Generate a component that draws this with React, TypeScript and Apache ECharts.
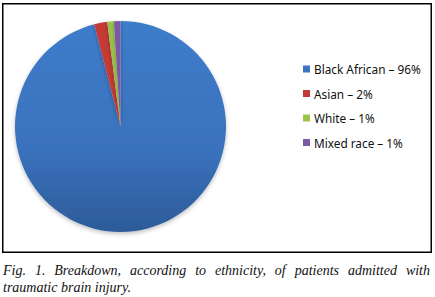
import React, { useEffect, useRef } from "react";
import * as echarts from "echarts";

const categories = ["Black African", "Asian", "White", "Mixed race"];
const values = [96, 2, 1, 1];
const sliceColors = ["#3B76C2", "#C43A35", "#9BC34B", "#7A5AA6"];
const captionLine1 = "Fig. 1. Breakdown, according to ethnicity, of patients admitted with";
const captionLine2 = "traumatic brain injury.";

const W = 435;
const H = 297;
const CAPTION_FONT = "italic 14px 'Liberation Serif'";

function measure(text: string): number {
  const c = document.createElement("canvas");
  const ctx = c.getContext("2d")!;
  ctx.font = CAPTION_FONT;
  return ctx.measureText(text).width;
}

export default function App() {
  const ref = useRef<HTMLDivElement>(null);
  useEffect(() => {
    if (!ref.current) return;
    const chart = echarts.init(ref.current, null, { renderer: "svg", width: W, height: H });

    const words = captionLine1.split(" ");
    const widths = words.map(measure);
    const left = 3;
    const right = 430;
    const total = widths.reduce((a, b) => a + b, 0);
    const gap = (right - left - total) / (words.length - 1);
    let cx = left;
    const wordEls: any[] = words.map((w, i) => {
      const el = {
        type: "text",
        x: cx,
        y: 270.5,
        style: {
          text: w,
          font: CAPTION_FONT,
          fill: "#111",
          align: "left",
          verticalAlign: "middle",
        },
      };
      cx += widths[i] + gap;
      return el;
    });

    const data = categories.map((name, i) => ({
      name,
      value: values[i],
      itemStyle:
        i === 0
          ? {
              color: {
                type: "linear",
                x: 0,
                y: 0,
                x2: 0,
                y2: 1,
                colorStops: [
                  { offset: 0, color: "#3E7CCA" },
                  { offset: 0.6, color: "#3A72BD" },
                  { offset: 1, color: "#2D5B99" },
                ],
              },
            }
          : { color: sliceColors[i] },
    }));

    chart.setOption({
      animation: false,
      backgroundColor: "#ffffff",
      color: sliceColors,
      legend: {
        orient: "vertical",
        left: 303,
        top: 62,
        padding: 0,
        itemWidth: 7,
        itemHeight: 7,
        itemGap: 10.5,
        icon: "rect",
        data: categories.map((name, i) => ({ name, itemStyle: { color: sliceColors[i] } })),
        formatter: (name: string) => {
          const i = categories.indexOf(name);
          return `${name} – ${values[i]}%`;
        },
        textStyle: {
          fontFamily: "'Noto Sans'",
          fontSize: 11.8,
          lineHeight: 14,
          color: "#111111",
          padding: [0, 0, 0, -1],
        },
      },
      series: [
        {
          type: "pie",
          center: [120.5, 126.5],
          radius: 105.5,
          startAngle: 90,
          clockwise: true,
          label: { show: false },
          labelLine: { show: false },
          emphasis: { disabled: true },
          itemStyle: {
            borderWidth: 0,
            shadowBlur: 4,
            shadowOffsetY: 2,
            shadowColor: "rgba(0,0,0,0.25)",
          },
          data,
        },
      ],
      graphic: [
        {
          type: "rect",
          shape: { x: 2.75, y: 3.75, width: 428.5, height: 248.5 },
          style: { fill: "none", stroke: "#000", lineWidth: 1.5 },
          z: 100,
        },
        ...wordEls,
        {
          type: "text",
          x: 3,
          y: 287,
          style: {
            text: captionLine2,
            font: CAPTION_FONT,
            fill: "#111",
            align: "left",
            verticalAlign: "middle",
          },
        },
      ],
    });
    return () => chart.dispose();
  }, []);
  return (
    <div
      ref={ref}
      style={{ position: "absolute", left: 0, top: 0, width: W, height: H }}
    />
  );
}
